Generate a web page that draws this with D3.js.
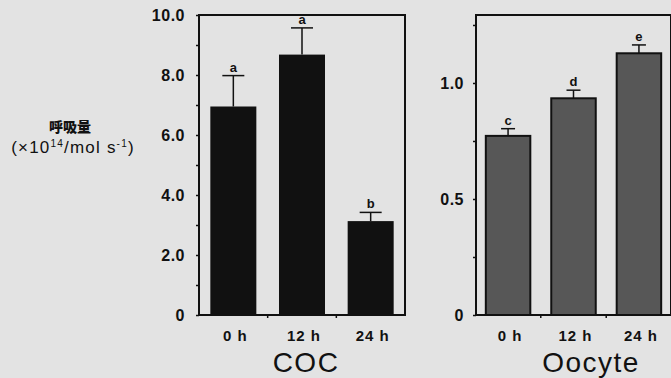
<!DOCTYPE html>
<html>
<head>
<meta charset="utf-8">
<script src="https://cdn.jsdelivr.net/npm/d3@7"></script>
<style>
  body { margin: 0; background: #e3e3e3; }
  svg { display: block; }
</style>
</head>
<body>
<svg id="chart" width="671" height="378"></svg>
<script>
// data
const categories = ["0 h", "12 h", "24 h"];
const cocMean = [6.95, 8.68, 3.13];
const cocErr = [1.03, 0.89, 0.29];
const cocLetters = ["a", "a", "b"];
const cocTicks = [0, 1, 2, 3, 4, 5, 6, 7, 8, 9, 10];
const cocLabeled = [0, 2, 4, 6, 8, 10];

const oocMean = [0.772, 0.934, 1.128];
const oocErr = [0.031, 0.035, 0.036];
const oocLetters = ["c", "d", "e"];
const oocTicks = [0, 0.25, 0.5, 0.75, 1.0, 1.25];
const oocLabeled = [0, 0.5, 1.0];

const svg = d3.select("#chart");
svg.append("rect").attr("width", 671).attr("height", 378).attr("fill", "#e3e3e3");

const font = "'Liberation Sans', Arial, Helvetica, sans-serif";

function panel(opt) {
  const x = d3.scaleBand()
    .domain(categories)
    .range([opt.left, opt.right])
    .paddingInner(opt.padIn)
    .paddingOuter(opt.padOut);
  const y = d3.scaleLinear().domain(opt.domain).range([315, 15]);

  const g = svg.append("g");

  // frame
  g.append("rect")
    .attr("x", opt.left).attr("y", 15)
    .attr("width", opt.right - opt.left).attr("height", 300)
    .attr("fill", "none").attr("stroke", "#111").attr("stroke-width", 2);

  // y axis
  const ya = g.append("g")
    .attr("transform", "translate(" + opt.left + ",0)")
    .call(d3.axisLeft(y)
      .tickValues(opt.ticks)
      .tickSize(3)
      .tickPadding(opt.tickPad)
      .tickFormat(d => opt.labeled.includes(d) ? opt.fmt(d) : ""));
  ya.select(".domain").remove();
  ya.selectAll("line").attr("stroke", "#111").attr("stroke-width", 1.5);
  ya.selectAll("text")
    .attr("font-family", font).attr("font-weight", "bold")
    .attr("font-size", 16).attr("letter-spacing", 0.5).attr("fill", "#111");

  // bottom ticks between the bars
  const mids = categories.slice(1).map(c => x(c) - x.step() * x.paddingInner() / 2);
  g.selectAll(".bt").data(mids).enter().append("line")
    .attr("x1", d => d).attr("x2", d => d)
    .attr("y1", 315).attr("y2", 318)
    .attr("stroke", "#111").attr("stroke-width", 1.5);

  // bars
  g.selectAll(".bar").data(opt.mean).enter().append("rect")
    .attr("x", (d, i) => x(categories[i]))
    .attr("y", d => y(d))
    .attr("width", x.bandwidth())
    .attr("height", d => y(0) - y(d))
    .attr("fill", opt.fill)
    .attr("stroke", "#111").attr("stroke-width", opt.strokeW);

  // error bars (upper only)
  opt.mean.forEach((m, i) => {
    const cx = x(categories[i]) + x.bandwidth() / 2;
    const top = y(m + opt.err[i]);
    g.append("line").attr("x1", cx).attr("x2", cx)
      .attr("y1", y(m)).attr("y2", top)
      .attr("stroke", "#111").attr("stroke-width", 1.5);
    g.append("line").attr("x1", cx - opt.cap).attr("x2", cx + opt.cap)
      .attr("y1", top).attr("y2", top)
      .attr("stroke", "#111").attr("stroke-width", 1.5);
    g.append("text")
      .attr("x", cx).attr("y", top - 4)
      .attr("text-anchor", "middle")
      .attr("font-family", font).attr("font-weight", "bold")
      .attr("font-size", 13).attr("fill", "#111")
      .text(opt.letters[i]);
  });

  // category labels
  g.selectAll(".cl").data(categories).enter().append("text")
    .attr("x", d => x(d) + x.bandwidth() / 2 + 2)
    .attr("y", 341)
    .attr("text-anchor", "middle")
    .attr("font-family", font).attr("font-weight", "bold")
    .attr("font-size", 15).attr("letter-spacing", 1).attr("fill", "#111")
    .text(d => d);

  // group title
  g.append("text")
    .attr("x", opt.titleX).attr("y", 372)
    .attr("text-anchor", "middle")
    .attr("font-family", font)
    .attr("font-size", 28).attr("letter-spacing", 1.5).attr("fill", "#111")
    .text(opt.title);
}

panel({
  left: 199, right: 405, domain: [0, 10],
  padIn: 0.33, padOut: 0.165,
  ticks: cocTicks, labeled: cocLabeled, fmt: d => d === 0 ? "0" : d3.format(".1f")(d),
  tickPad: 11,
  mean: cocMean, err: cocErr, letters: cocLetters,
  fill: "#111", strokeW: 0, cap: 11,
  title: "COC", titleX: 306
});

panel({
  left: 476, right: 671, domain: [0, 1.293],
  padIn: 0.32, padOut: 0.15,
  ticks: oocTicks, labeled: oocLabeled, fmt: d => d === 0 ? "0" : d3.format(".1f")(d),
  tickPad: 9,
  mean: oocMean, err: oocErr, letters: oocLetters,
  fill: "#575757", strokeW: 2, cap: 7,
  title: "Oocyte", titleX: 591
});

// y axis title
svg.append("text")
  .attr("x", 70).attr("y", 132)
  .attr("text-anchor", "middle")
  .attr("font-family", "'Noto Sans CJK JP', sans-serif")
  .attr("font-weight", 900).attr("font-size", 14).attr("fill", "#111")
  .text("呼吸量");
const l2 = svg.append("text")
  .attr("x", 73).attr("y", 153)
  .attr("text-anchor", "middle")
  .attr("font-family", font).attr("font-size", 17)
  .attr("letter-spacing", 1.2).attr("fill", "#111");
l2.append("tspan").text("(×10");
l2.append("tspan").attr("dy", -6).attr("font-size", 10).text("14");
l2.append("tspan").attr("dy", 6).text("/mol s");
l2.append("tspan").attr("dy", -6).attr("font-size", 10).text("-1");
l2.append("tspan").attr("dy", 6).text(")");
</script>
</body>
</html>
